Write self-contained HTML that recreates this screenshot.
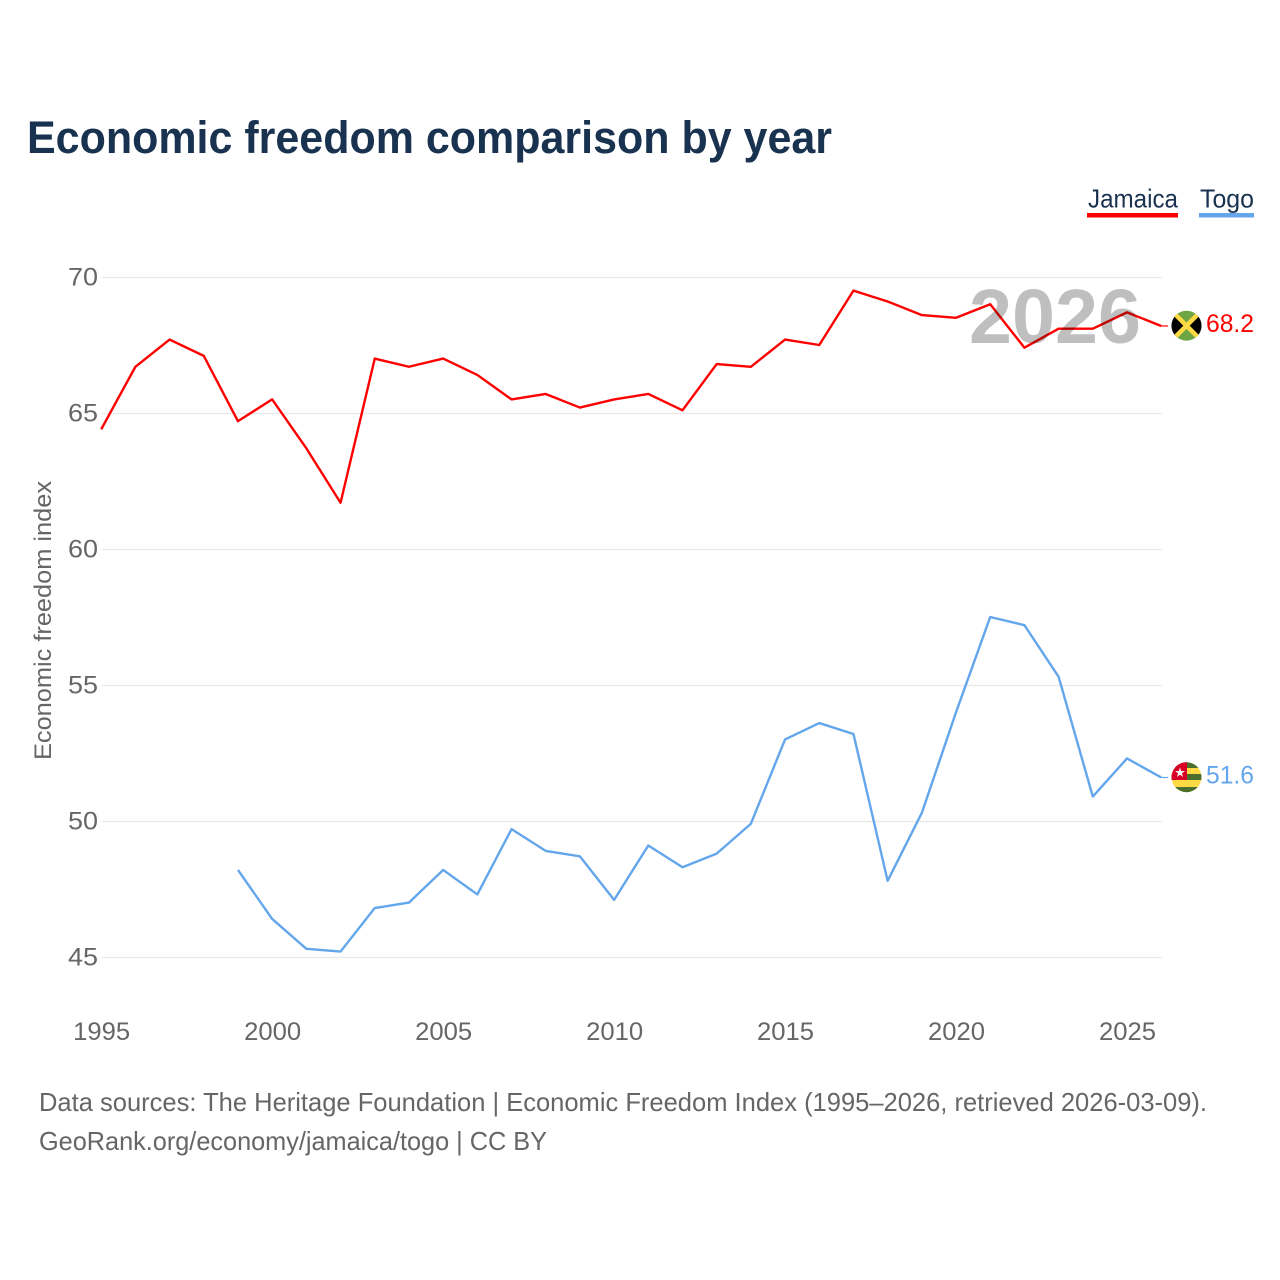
<!DOCTYPE html>
<html lang="en">
<head>
<meta charset="utf-8">
<title>Economic freedom comparison by year</title>
<style>
html,body{margin:0;padding:0;background:#fff;}
svg{display:block;font-family:"Liberation Sans",sans-serif;}
</style>
</head>
<body>
<svg id="chart" xmlns="http://www.w3.org/2000/svg" width="1280" height="1280" viewBox="0 0 1280 1280">
  <defs>
    <clipPath id="flag-clip-jm"><circle cx="1186.5" cy="325.7" r="15"/></clipPath>
    <clipPath id="flag-clip-tg"><circle cx="1186.5" cy="777.2" r="15"/></clipPath>
  </defs>
  <rect width="1280" height="1280" fill="#ffffff"/>
  <text x="27" y="153" font-size="45" font-weight="700" fill="#18324f" textLength="805" lengthAdjust="spacingAndGlyphs">Economic freedom comparison by year</text>

  <g>
    <text x="1088" y="207.5" font-size="26" fill="#18324f" textLength="90" lengthAdjust="spacingAndGlyphs">Jamaica</text>
    <rect x="1087" y="213" width="91" height="4.5" fill="#ff0000"/>
  </g>
  <g>
    <text x="1200" y="207.5" font-size="26" fill="#18324f" textLength="54" lengthAdjust="spacingAndGlyphs">Togo</text>
    <rect x="1199" y="213" width="55" height="4.5" fill="#64a6eb"/>
  </g>

  <text transform="translate(51 620.5) rotate(-90)" text-anchor="middle" font-size="24" fill="#666666" textLength="279" lengthAdjust="spacingAndGlyphs">Economic freedom index</text>

  <g id="y-grid"></g>
  <g id="x-ticks"></g>
  <g id="series"></g>

  <text x="969" y="343" font-size="77" font-weight="700" fill="#000000" fill-opacity="0.25" textLength="172" lengthAdjust="spacingAndGlyphs">2026</text>

  <g clip-path="url(#flag-clip-jm)">
    <rect x="1171" y="310" width="31" height="31" fill="#6da544"/>
    <polygon points="1171.5,310.7 1186.5,325.7 1171.5,340.7" fill="#000000"/>
    <polygon points="1201.5,310.7 1186.5,325.7 1201.5,340.7" fill="#000000"/>
    <line x1="1171.5" y1="310.7" x2="1201.5" y2="340.7" stroke="#ffda44" stroke-width="4.5"/>
    <line x1="1201.5" y1="310.7" x2="1171.5" y2="340.7" stroke="#ffda44" stroke-width="4.5"/>
  </g>
  <g clip-path="url(#flag-clip-tg)">
    <rect x="1171" y="762" width="31" height="31" fill="#ffda44"/>
    <rect x="1171" y="762" width="31" height="6" fill="#496e2d"/>
    <rect x="1171" y="774" width="31" height="6" fill="#496e2d"/>
    <rect x="1171" y="787" width="31" height="6" fill="#496e2d"/>
    <rect x="1171" y="762" width="16" height="18" fill="#d80027"/>
    <polygon points="1180,767.5 1181.2,771 1185,771 1182,773.3 1183.1,777 1180,774.8 1176.9,777 1178,773.3 1175,771 1178.8,771" fill="#f0f0f0"/>
  </g>

  <text x="39" y="1111" font-size="26" fill="#666666" textLength="1168" lengthAdjust="spacingAndGlyphs">Data sources: The Heritage Foundation | Economic Freedom Index (1995–2026, retrieved 2026-03-09).</text>
  <text x="39" y="1150" font-size="26" fill="#666666" textLength="508" lengthAdjust="spacingAndGlyphs">GeoRank.org/economy/jamaica/togo | CC BY</text>

<script>
const years = [1995,1996,1997,1998,1999,2000,2001,2002,2003,2004,2005,2006,2007,2008,2009,2010,2011,2012,2013,2014,2015,2016,2017,2018,2019,2020,2021,2022,2023,2024,2025,2026];
const jamaicaValues = [64.4,66.7,67.7,67.1,64.7,65.5,63.7,61.7,67.0,66.7,67.0,66.4,65.5,65.7,65.2,65.5,65.7,65.1,66.8,66.7,67.7,67.5,69.5,69.1,68.6,68.5,69.0,67.4,68.1,68.1,68.7,68.2];
const togoValues = [null,null,null,null,48.2,46.4,45.3,45.2,46.8,47.0,48.2,47.3,49.7,48.9,48.7,47.1,49.1,48.3,48.8,49.9,53.0,53.6,53.2,47.8,50.3,54.0,57.5,57.2,55.3,50.9,52.3,51.6];
const yTickValues = [45,50,55,60,65,70];
const xTickValues = [1995,2000,2005,2010,2015,2020,2025];

const NS = 'http://www.w3.org/2000/svg';
function xScale(year){ return 101.2 + (year - 1995) * (1161.2 - 101.2) / (2026 - 1995); }
function yScale(v){ return 957 - (v - 45) * (957 - 277) / (70 - 45); }
function make(tag, attrs, parent, text){
  const el = document.createElementNS(NS, tag);
  for (const k in attrs) el.setAttribute(k, attrs[k]);
  if (text !== undefined) el.textContent = text;
  parent.appendChild(el);
  return el;
}

const gridGroup = document.getElementById('y-grid');
yTickValues.forEach(function(v){
  const gy = yScale(v) + 0.5;
  const line = make('line', {x1:102, x2:1162, y1:gy, y2:gy, stroke:'#e8e8e8', 'stroke-width':1.15}, gridGroup);
  
  
  const label = make('text', {x:98, y:gy+8, 'text-anchor':'end', 'font-size':25, fill:'#666666', textLength:30, lengthAdjust:'spacingAndGlyphs'}, gridGroup, String(v));
  
  
});

const xGroup = document.getElementById('x-ticks');
xTickValues.forEach(function(y){
  const label = make('text', {x:xScale(y)+0.5, y:1040, 'text-anchor':'middle', 'font-size':25, fill:'#666666', textLength:57, lengthAdjust:'spacingAndGlyphs'}, xGroup, String(y));
  
  
});

const seriesGroup = document.getElementById('series');
function drawSeries(values, color, seriesName){
  let d = '';
  let lastYear = null, lastValue = null;
  values.forEach(function(v, i){
    if (v === null) return;
    d += (d ? 'L' : 'M') + xScale(years[i]).toFixed(2) + ' ' + yScale(v).toFixed(2);
    lastYear = years[i];
    lastValue = v;
  });
  const path = make('path', {d:d, fill:'none', stroke:color, 'stroke-width':2.4, 'stroke-linejoin':'round'}, seriesGroup);
  
  
  const endX = xScale(lastYear), endY = yScale(lastValue);
  const connector = make('line', {x1:endX, x2:endX+7, y1:endY, y2:endY, stroke:color, 'stroke-width':1.2}, seriesGroup);
  
  
  const label = make('text', {x:1206, y:endY+6, 'font-size':25, fill:color, textLength:48, lengthAdjust:'spacingAndGlyphs'}, seriesGroup, lastValue.toFixed(1));
  
  
}
drawSeries(jamaicaValues, '#ff0000', 'jamaica');
drawSeries(togoValues, '#64a6eb', 'togo');
</script>
</svg>
</body>
</html>
